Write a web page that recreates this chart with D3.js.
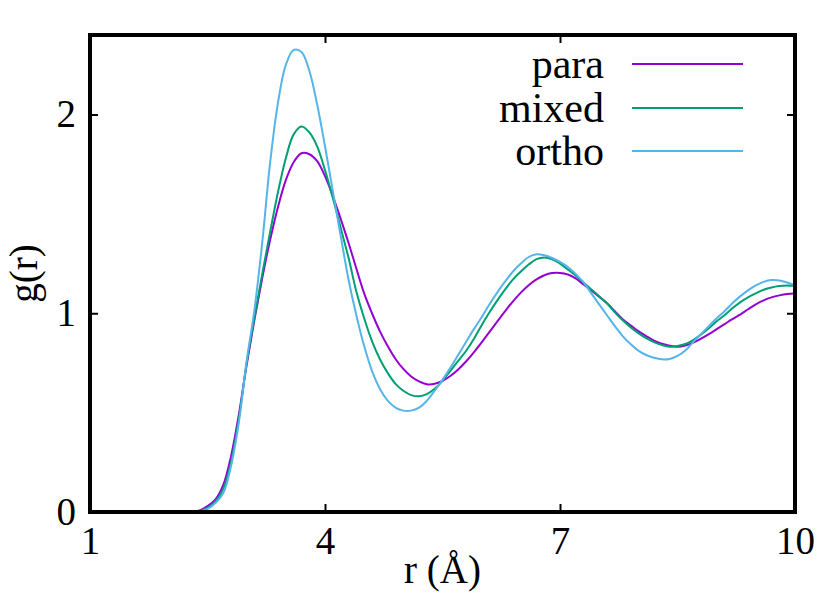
<!DOCTYPE html>
<html>
<head>
<meta charset="utf-8">
<script src="https://cdn.jsdelivr.net/npm/d3@7"></script>
<style>
  body { margin: 0; background: #fff; }
  text { font-family: "Liberation Serif", "DejaVu Serif", serif; fill: #000; }
</style>
</head>
<body>
<div id="chart"></div>
<script>
// radial distance grid (Å)
var r = [2.2, 2.3, 2.4, 2.5, 2.6, 2.7, 2.8, 2.9, 3.0, 3.1,
         3.2, 3.3, 3.4, 3.5, 3.6, 3.7, 3.8, 3.9, 4.0, 4.1,
         4.2, 4.3, 4.4, 4.5, 4.6, 4.7, 4.8, 4.9, 5.0, 5.1,
         5.2, 5.3, 5.4, 5.5, 5.6, 5.7, 5.8, 5.9, 6.0, 6.1,
         6.2, 6.3, 6.4, 6.5, 6.6, 6.7, 6.8, 6.9, 7.0, 7.1,
         7.2, 7.3, 7.4, 7.5, 7.6, 7.7, 7.8, 7.9, 8.0, 8.1,
         8.2, 8.3, 8.4, 8.5, 8.6, 8.7, 8.8, 8.9, 9.0, 9.1,
         9.2, 9.3, 9.4, 9.5, 9.6, 9.7, 9.8, 9.9, 10.0];

var para = [0, 0.001, 0.008, 0.03, 0.062, 0.135, 0.28, 0.49, 0.74, 0.97,
            1.18, 1.37, 1.535, 1.67, 1.76, 1.805, 1.80, 1.765, 1.69, 1.59,
            1.475, 1.355, 1.225, 1.10, 1.00, 0.91, 0.835, 0.77, 0.72, 0.682,
            0.657, 0.643, 0.645, 0.66, 0.684, 0.717, 0.757, 0.803, 0.853, 0.906,
            0.959, 1.011, 1.06, 1.104, 1.141, 1.17, 1.191, 1.202, 1.203, 1.195,
            1.175, 1.145, 1.115, 1.083, 1.05, 1.01, 0.97, 0.94, 0.91, 0.885,
            0.862, 0.847, 0.837, 0.832, 0.838, 0.852, 0.872, 0.895, 0.92, 0.945,
            0.97, 0.993, 1.02, 1.045, 1.065, 1.08, 1.09, 1.097, 1.10];

var mixed = [0, 0.0005, 0.005, 0.022, 0.052, 0.115, 0.25, 0.47, 0.75, 0.98,
             1.20, 1.41, 1.61, 1.78, 1.90, 1.94, 1.91, 1.84, 1.72, 1.58,
             1.43, 1.28, 1.11, 0.975, 0.86, 0.77, 0.70, 0.645, 0.61, 0.588,
             0.582, 0.593, 0.62, 0.66, 0.71, 0.76, 0.81, 0.87, 0.94, 1.005,
             1.065, 1.12, 1.17, 1.21, 1.245, 1.272, 1.28, 1.272, 1.25, 1.22,
             1.19, 1.155, 1.12, 1.085, 1.05, 1.005, 0.965, 0.93, 0.90, 0.875,
             0.855, 0.84, 0.832, 0.835, 0.845, 0.865, 0.893, 0.925, 0.96, 0.99,
             1.025, 1.055, 1.08, 1.10, 1.118, 1.13, 1.137, 1.14, 1.137];

var ortho = [0, 0, 0.003, 0.015, 0.045, 0.094, 0.23, 0.45, 0.76, 1.02,
             1.36, 1.76, 2.06, 2.25, 2.325, 2.315, 2.22, 2.05, 1.84, 1.615,
             1.39, 1.17, 0.99, 0.835, 0.71, 0.62, 0.56, 0.525, 0.51, 0.51,
             0.525, 0.56, 0.61, 0.665, 0.725, 0.79, 0.855, 0.92, 0.98, 1.045,
             1.105, 1.16, 1.21, 1.25, 1.283, 1.297, 1.292, 1.278, 1.258, 1.233,
             1.198, 1.155, 1.10, 1.045, 0.99, 0.935, 0.885, 0.845, 0.812, 0.79,
             0.776, 0.768, 0.77, 0.785, 0.812, 0.855, 0.895, 0.935, 0.975, 1.01,
             1.05, 1.085, 1.115, 1.14, 1.158, 1.167, 1.165, 1.155, 1.14];

var seriesNames = ["para", "mixed", "ortho"];
var seriesColors = ["#9400d3", "#009e73", "#56b4e9"];
var xTicks = [1, 4, 7, 10];
var yTicks = [0, 1, 2];

var W = 831, H = 602;
var margin = {left: 90, right: 36, top: 35, bottom: 90};

var svg = d3.select("#chart").append("svg")
    .attr("width", W)
    .attr("height", H)
    .style("background", "#fff");

var x = d3.scaleLinear().domain([1, 10]).range([margin.left, W - margin.right]);
var y = d3.scaleLinear().domain([0, 2.4]).range([H - margin.bottom, margin.top]);

var clipId = "plotclip";
svg.append("clipPath").attr("id", clipId)
  .append("rect")
    .attr("x", x(1)).attr("y", y(2.4))
    .attr("width", x(10) - x(1)).attr("height", y(0) - y(2.4));

var line = d3.line()
    .x(function(d) { return x(d[0]); })
    .y(function(d) { return y(d[1]); })
    .curve(d3.curveCatmullRom.alpha(0.5));

var allSeries = [para, mixed, ortho];

// curves
svg.append("g").attr("clip-path", "url(#" + clipId + ")")
  .selectAll("path")
  .data(allSeries)
  .enter().append("path")
    .attr("d", function(s) { return line(r.map(function(v, i) { return [v, s[i]]; })); })
    .attr("fill", "none")
    .attr("stroke", function(d, i) { return seriesColors[i]; })
    .attr("stroke-width", 2);

// axes: ticks inward, mirrored on top/right
var tickLen = 8;
svg.append("g")
    .attr("transform", "translate(0," + y(0) + ")")
    .call(d3.axisBottom(x).tickValues(xTicks).tickSize(-tickLen).tickPadding(14).tickFormat(d3.format("d")))
    .call(function(g) { g.select(".domain").remove(); });
svg.append("g")
    .attr("transform", "translate(0," + y(2.4) + ")")
    .call(d3.axisTop(x).tickValues(xTicks).tickSize(-tickLen).tickFormat(""))
    .call(function(g) { g.select(".domain").remove(); });
svg.append("g")
    .attr("transform", "translate(" + x(1) + ",0)")
    .call(d3.axisLeft(y).tickValues(yTicks).tickSize(-tickLen).tickPadding(14).tickFormat(d3.format("d")))
    .call(function(g) { g.select(".domain").remove(); });
svg.append("g")
    .attr("transform", "translate(" + x(10) + ",0)")
    .call(d3.axisRight(y).tickValues(yTicks).tickSize(-tickLen).tickFormat(""))
    .call(function(g) { g.select(".domain").remove(); });

svg.selectAll(".tick line").attr("stroke", "#000").attr("stroke-width", 2);
svg.selectAll(".tick text")
    .style("font-family", "'Liberation Serif', serif")
    .style("font-size", "39px")
    .attr("fill", "#000");

// frame
svg.append("rect")
    .attr("x", x(1)).attr("y", y(2.4))
    .attr("width", x(10) - x(1)).attr("height", y(0) - y(2.4))
    .attr("fill", "none")
    .attr("stroke", "#000")
    .attr("stroke-width", 4);

// axis titles
svg.append("text")
    .attr("x", (x(1) + x(10)) / 2)
    .attr("y", 583)
    .attr("text-anchor", "middle")
    .style("font-size", "39px")
    .text("r (Å)");

svg.append("text")
    .attr("transform", "translate(37," + (y(0) + y(2.4)) / 2 + ") rotate(-90)")
    .attr("text-anchor", "middle")
    .style("font-size", "39px")
    .text("g(r)");

// legend
var legend = svg.append("g");
var rowY = [64, 108, 151];
seriesNames.forEach(function(name, i) {
    legend.append("text")
        .attr("x", 604)
        .attr("y", rowY[i] + 14)
        .attr("text-anchor", "end")
        .style("font-size", "42px")
        .text(name);
    legend.append("line")
        .attr("x1", 632).attr("x2", 743)
        .attr("y1", rowY[i]).attr("y2", rowY[i])
        .attr("stroke", seriesColors[i])
        .attr("stroke-width", 2);
});
</script>
</body>
</html>
